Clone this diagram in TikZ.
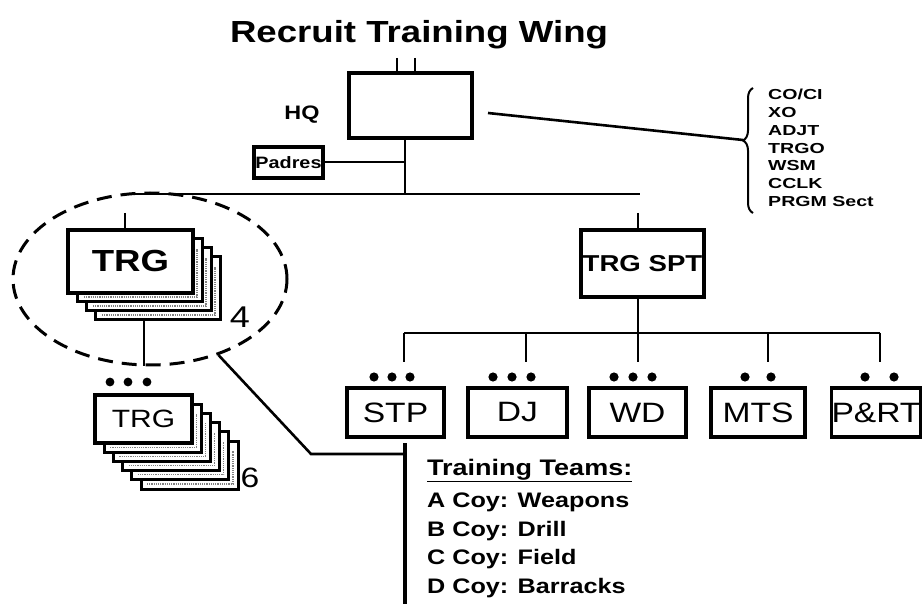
\documentclass[tikz,border=0pt]{standalone}
\usepackage{fontspec}
\setmainfont[FakeStretch=1.2]{Liberation Sans}
\newfontfamily\listfont[FakeStretch=1.35]{Liberation Sans}
\usetikzlibrary{shapes.geometric,decorations.pathreplacing}
\begin{document}
\begin{tikzpicture}[x=1pt,y=-1pt,
  unit/.style={draw,line width=3.3pt,fill=white,inner sep=0pt},
  back/.style={draw,line width=3pt,fill=white},
  grain/.style={gray,densely dotted,line width=1.2pt},
  link/.style={line width=2pt},
  every node/.style={align=center}]
\useasboundingbox (0,0) rectangle (922,604);
\node[anchor=base,font=\bfseries\fontsize{30.5}{36}\selectfont] (title) at (419,43) {Recruit Training Wing};
% headquarters
\node[unit,minimum width=123pt,minimum height=65pt] (hq) at (410.5,105.5) {};
\node[anchor=base,font=\bfseries\fontsize{19.5}{22}\selectfont] (hqlbl) at (302,120) {HQ};
\node[unit,minimum width=69pt,minimum height=31pt,font=\bfseries\fontsize{16.5}{18}\selectfont] (padres) at (288.5,162.5) {Padres};
\draw[link,line width=2.4pt] (397,58) -- (397,73); \draw[link,line width=2.4pt] (415,58) -- (415,73);
\coordinate (tk) at (405,194);
\draw[link] (hq.south -| tk) -- (tk);
\draw[link] (padres.east) -- (padres.east -| tk);
\draw[link] (127,194) -- (640,194);
% staff list
\coordinate (hqr) at (488,113);
\coordinate (brtip) at (743,140);
\draw[line width=2.6pt] (hqr) -- (brtip);
\draw[line width=2pt,decorate,decoration={brace,amplitude=10pt,aspect=0.58}] (753,213) -- (753,88);
\foreach \t [count=\i] in {CO/CI,XO,ADJT,TRGO,WSM,CCLK,PRGM Sect}
  \node[anchor=base west,inner sep=0pt,font=\listfont\bfseries\fontsize{14.5}{16}\selectfont] (st\i) at (768,82+17.8*\i) {\t};
% training groups
\foreach \k in {3,2,1} {
  \draw[back] (68+9*\k,230+9*\k) rectangle +(125,63);
  \draw[grain] (75+9*\k,288+9*\k) -- (188+9*\k,288+9*\k) -- (188+9*\k,240+9*\k);
}
\node[unit,minimum width=125pt,minimum height=63pt,font=\bfseries\fontsize{30.5}{34}\selectfont] (trg) at (130.5,261.5) {TRG};
\node[font=\fontsize{30}{34}\selectfont] (four) at (240,317) {4};
\draw[link] (125,213) -- (125,0 |- trg.north);
\node[draw,ellipse,dashed,dash pattern=on 15pt off 9pt,line width=3pt,minimum width=274pt,minimum height=172pt] (grp) at (150,279) {};
\coordinate (stk) at (144,320);
\draw[link] (stk) -- (stk |- grp.south);
\foreach \x in {110,128,147} \fill (\x,382) circle (4.4pt);
\foreach \k in {5,4,3,2,1} {
  \draw[back] (95+9.2*\k,395+9.2*\k) rectangle +(97,48);
  \draw[grain] (101+9.2*\k,438+9.2*\k) -- (187+9.2*\k,438+9.2*\k) -- (187+9.2*\k,405+9.2*\k);
}
\node[unit,minimum width=97pt,minimum height=48pt,font=\fontsize{25}{28}\selectfont] (trgs) at (143.5,419) {TRG};
\node[font=\fontsize{28}{32}\selectfont] (six) at (250,478) {6};
% training support
\node[unit,minimum width=123pt,minimum height=67pt,font=\bfseries\fontsize{23}{26}\selectfont] (spt) at (642.5,263.5) {TRG SPT};
\draw[link] (638,213) -- (638,0 |- spt.north);
\coordinate (sb) at (638,333);
\draw[link] (sb |- spt.south) -- (sb);
\draw[link] (404,333) -- (880,333);
\foreach \x in {404,526,638,768,880} \draw[link,line width=2.4pt] (\x,333) -- (\x,362);
\foreach \x in {374,392,410,493,512,531,614,633,652,745,771,865,894} \fill (\x,377) circle (4.6pt);
\foreach \n/\x/\w in {STP/395.5/97,DJ/517.5/99,WD/637.5/97,MTS/758/94,P\&RT/876/89}
  \node[unit,minimum width=\w pt,minimum height=49pt,font=\fontsize{28}{32}\selectfont] (b\x) at (\x,412.5) {\n};
% training teams
\coordinate (bend) at (311,454);
\coordinate (tt) at (405,443);
\coordinate (tb) at (405,604);
\draw[line width=2.6pt] (grp.-48) -- (bend) -- (bend -| tt);
\draw[line width=3.2pt] (tt) -- (tb);
\node[anchor=base west,inner sep=0pt,font=\bfseries\fontsize{22.5}{24}\selectfont] (tth) at (427,475) {\underline{Training Teams:}};
\foreach \t [count=\i] in {A Coy: Weapons,B Coy: Drill,C Coy: Field,D Coy: Barracks}
  \node[anchor=base west,inner sep=0pt,font=\bfseries\fontsize{21}{24}\selectfont] (coy\i) at (427,479+28.6*\i) {\t};
\end{tikzpicture}
\end{document}
